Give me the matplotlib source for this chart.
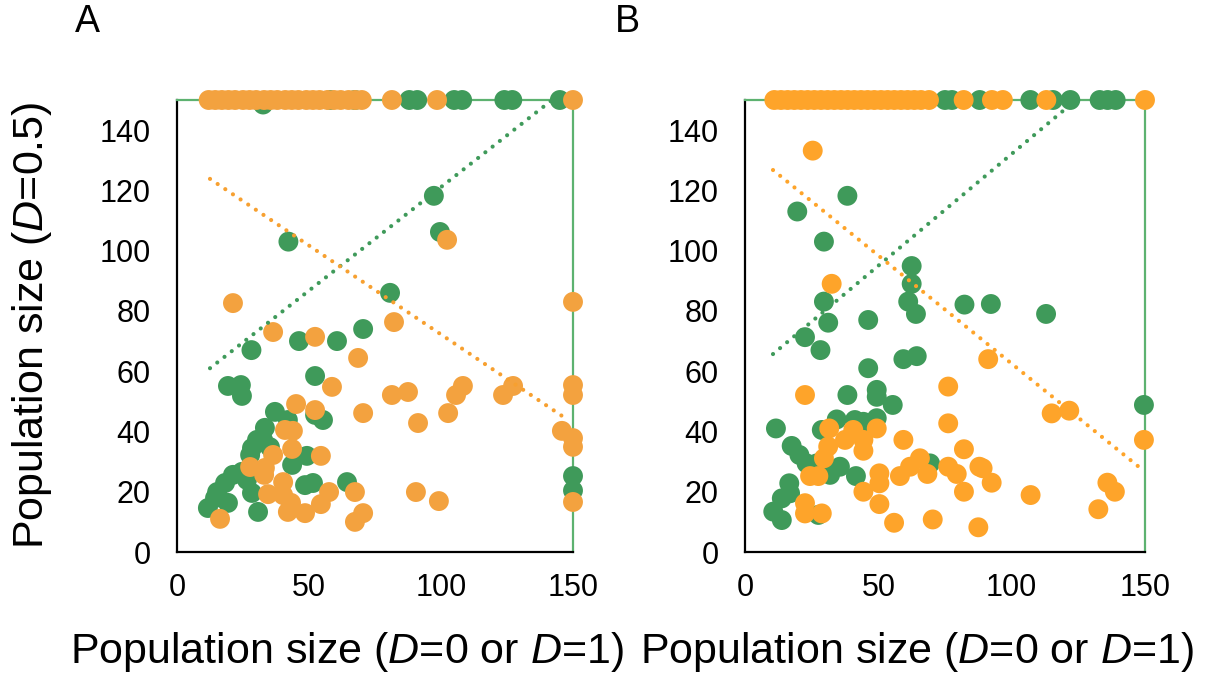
import matplotlib
matplotlib.use("Agg")
import matplotlib.pyplot as plt
import numpy as np

plt.rcParams['font.family'] = ['Liberation Sans', 'DejaVu Sans']
plt.rcParams['mathtext.fontset'] = 'custom'
plt.rcParams['mathtext.rm'] = 'Liberation Sans'
plt.rcParams['mathtext.it'] = 'Liberation Sans:italic'

# ---------------- data: panel A ----------------
a_green_x = [32.6, 58, 67.4, 88, 91, 105, 108, 124, 127, 145,
             42.2, 97.3, 99.6, 80.7, 70.5, 60.6, 46.2, 28.2, 19.3, 24.2,
             24.6, 52.3, 55.3, 52.3, 37.1, 42.0, 33.3, 30.3, 28.4, 32.6,
             35.2, 27.7, 49.2, 43.6, 21.2, 24.6, 18.2, 15.2, 19.3, 11.7,
             28.4, 30.7, 48.5, 51.5, 64.4, 14.4, 26.5, 150, 150]
a_green_y = [148.5, 150, 150, 150, 150, 150, 150, 150, 150, 150,
             103.0, 118.2, 106.2, 86.0, 74.0, 70.0, 70.0, 67.0, 55.1, 55.4,
             51.8, 58.4, 43.8, 45.5, 46.5, 43.8, 41.2, 37.2, 34.5, 37.2,
             34.8, 32.2, 31.9, 28.9, 25.6, 26.6, 22.9, 19.9, 16.3, 14.6,
             19.6, 13.3, 22.2, 22.9, 23.2, 17.9, 23.9, 25.2, 20.4]

a_orange_x = [12, 14.5, 17, 19.5, 22, 25, 27.5, 30, 33, 35.5, 38, 41, 43.5, 46, 49, 51.5,
              54, 57, 59.5, 62, 65, 67.5, 70,
              81.4, 98.5, 150,
              21.2, 36.4, 52.3, 68.6, 102.3, 82.2, 150, 45.1, 52.3, 70.5,
              40.9, 43.9, 43.6, 36.4, 54.5, 27.7, 33.0, 33.3, 40.2, 34.5,
              40.2, 43.2, 42.0, 48.5, 54.5, 57.6, 67.4, 70.5, 67.4, 16.3,
              58.7, 81.4, 87.5, 91.3, 108.3, 105.7, 102.7, 127.3, 123.5, 145.8,
              150, 150, 150, 150, 90.5, 99.2, 150]
a_orange_y = [150] * 26 + \
             [82.6, 73.0, 71.4, 64.4, 103.6, 76.3, 83.0, 49.1, 47.1, 46.1,
              40.5, 40.2, 34.2, 32.2, 31.9, 28.2, 25.6, 27.9, 23.2, 19.2,
              18.9, 16.3, 13.3, 12.9, 15.9, 19.9, 19.9, 12.9, 10.0, 11.0,
              54.8, 52.1, 53.1, 42.8, 55.1, 52.1, 46.1, 55.1, 52.1, 40.2,
              37.8, 34.9, 55.4, 52.1, 19.9, 16.9, 16.6]

# ---------------- data: panel B ----------------
b_green_x = [75, 77.6, 88, 107, 115.5, 122, 133, 136, 139,
             38.4, 19.6, 29.6, 62.5, 62.5, 61.2, 64.1, 82.3, 92.2, 112.9,
             29.6, 31.2, 46.2, 22.5, 28.3, 59.4, 64.4, 46.2, 38.4, 49.4,
             49.4, 55.4, 11.6, 34.4, 41.2, 44.4, 49.4, 28.8, 17.5, 20.4,
             23.1, 26.9, 31.9, 35.6, 41.6, 69.4, 16.6, 13.8, 16.9, 10.6,
             13.8, 27.5, 149.6]
b_green_y = [150] * 9 + \
            [118.2, 113.0, 103.0, 94.9, 89.0, 83.1, 79.0, 82.1, 82.3, 79.0,
             83.1, 76.1, 77.0, 71.3, 67.0, 64.0, 65.0, 61.0, 52.1, 53.8,
             51.5, 48.8, 41.0, 44.0, 43.8, 43.2, 44.4, 40.5, 35.2, 32.2,
             29.4, 29.4, 25.6, 28.3, 25.2, 29.4, 22.8, 17.8, 19.5, 13.4,
             10.6, 12.3, 48.8]

b_orange_x = [11, 13.5, 16, 18.5, 21, 23.5, 26, 28.5, 31, 33.5, 36, 38.5, 41, 43.5, 46,
              48.5, 51, 53.5, 56, 58.5, 61, 63.5, 66, 69,
              82, 92.6, 96.7, 113, 150,
              25.4, 32.5, 91.2, 22.5, 76.2, 76.2, 31.6, 49.4, 40.6, 37.5,
              44.4, 44.4, 31.2, 29.6, 59.4, 24.4, 27.5, 50.4, 50.4, 44.4,
              58.1, 61.9, 65.6, 68.4, 76.2, 79.4, 82.1, 82.1, 87.9, 50.4,
              55.9, 70.4, 87.5, 22.5, 22.5, 28.8, 115.0, 121.6, 149.6, 89.1,
              92.5, 107.1, 135.9, 138.7, 132.5]
b_orange_y = [150] * 29 + \
             [133.2, 89.0, 64.0, 52.1, 54.9, 42.7, 41.0, 41.0, 40.5, 37.2,
              37.2, 33.6, 35.0, 31.1, 37.2, 25.2, 25.2, 26.1, 22.8, 20.0,
              25.2, 28.3, 31.1, 25.9, 28.3, 25.9, 34.1, 20.0, 28.3, 15.9,
              9.7, 10.8, 8.2, 16.2, 12.8, 12.8, 46.0, 46.9, 37.2, 27.8,
              23.0, 18.9, 23.0, 20.0, 14.2]

# trend lines: (slope, intercept, x_start, x_end)
a_trend_green = (0.687, 52.4, 12.5, 142.0)
a_trend_orange = (-0.59, 131.2, 12.5, 148.0)
b_trend_green = (0.742, 57.9, 10.5, 124.0)
b_trend_orange = (-0.718, 134.3, 10.5, 149.0)

x_ticks = [0, 50, 100, 150]
y_ticks = [0, 20, 40, 60, 80, 100, 120, 140]

GREEN = '#3f9a5a'
EDGE_GREEN = '#5db270'

fig = plt.figure(figsize=(12.07, 6.98), dpi=100)
axA = fig.add_axes([177 / 1207, 1 - 552 / 698, 396 / 1207, 452 / 698])
axB = fig.add_axes([745 / 1207, 1 - 552 / 698, 400 / 1207, 452 / 698])


def draw(ax, gx, gy, ox, oy, tg, to, orange, torange):
    ax.scatter(gx, gy, s=205, color=GREEN, edgecolors='none',
               clip_on=False, zorder=3)
    ax.scatter(ox, oy, s=205, color=orange, edgecolors='none',
               clip_on=False, zorder=4)
    for (m, b, x0, x1), c in ((tg, GREEN), (to, torange)):
        xs = np.array([x0, x1])
        ax.plot(xs, m * xs + b, color=c, lw=3.0, linestyle=(0, (0.01, 2.2)),
                dash_capstyle='round', zorder=5)
    ax.set_xlim(0, 150)
    ax.set_ylim(0, 150)
    ax.set_xticks(x_ticks)
    ax.set_yticks(y_ticks)
    ax.tick_params(axis='both', length=0, labelsize=22)
    ax.tick_params(axis='y', pad=19)
    ax.tick_params(axis='x', pad=15)
    for s in ('left', 'bottom'):
        ax.spines[s].set_color('black')
        ax.spines[s].set_linewidth(1.6)
    for s in ('top', 'right'):
        ax.spines[s].set_color(EDGE_GREEN)
        ax.spines[s].set_linewidth(1.6)
    ax.set_facecolor('white')


draw(axA, a_green_x, a_green_y, a_orange_x, a_orange_y,
     a_trend_green, a_trend_orange, '#f3a23f', '#f7a030')
draw(axB, b_green_x, b_green_y, b_orange_x, b_orange_y,
     b_trend_green, b_trend_orange, '#fea42a', '#fea42a')

xlabel = 'Population size ($\\mathit{D}$=0 or $\\mathit{D}$=1)'
fig.text(347 / 1207, 1 - 652 / 698, xlabel, fontsize=31, ha='center', va='center')
fig.text(917 / 1207, 1 - 652 / 698, xlabel, fontsize=31, ha='center', va='center')
fig.text(32 / 1207, 1 - 325 / 698, 'Population size ($\\mathit{D}$=0.5)', fontsize=31,
         ha='center', va='center', rotation=90)
fig.text(87 / 1207, 1 - 22 / 698, 'A', fontsize=27, ha='center', va='center')
fig.text(627 / 1207, 1 - 22 / 698, 'B', fontsize=27, ha='center', va='center')

fig.savefig('out.png', dpi=100, facecolor='white')
